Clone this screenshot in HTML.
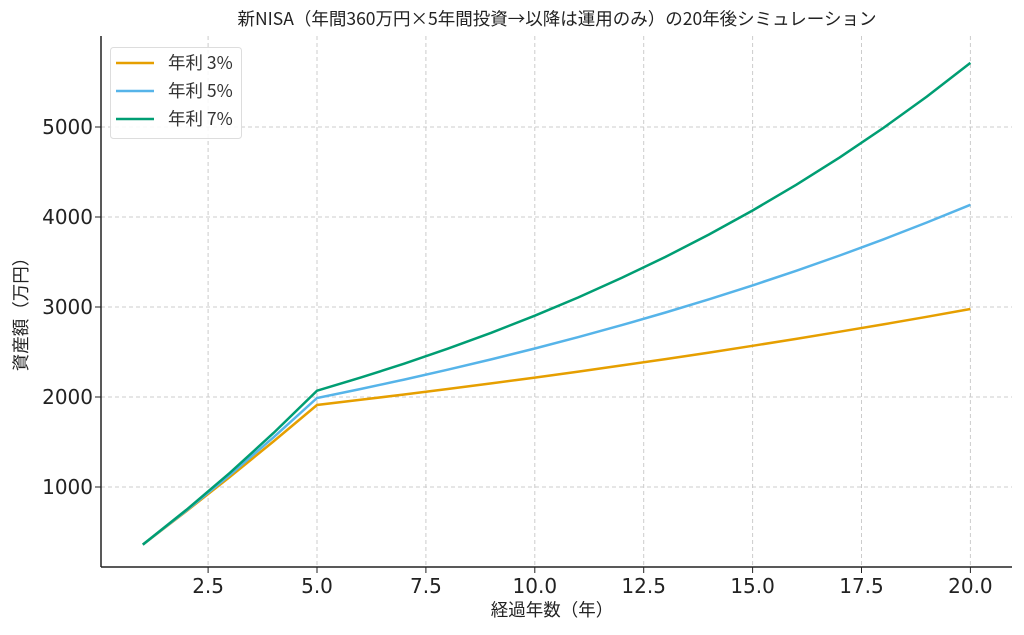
<!DOCTYPE html>
<html><head><meta charset="utf-8"><style>
body{margin:0;background:#fff;}
svg{display:block;font-family:"DejaVu Sans","Noto Sans CJK JP",sans-serif;}
.j{font-family:"Noto Sans CJK JP","DejaVu Sans",sans-serif;}
</style></head><body>
<svg id="s" width="1024" height="635" xmlns="http://www.w3.org/2000/svg">
<rect width="1024" height="635" fill="#fff"/>
<text class="j" x="557" y="25" text-anchor="middle" font-size="17.5" fill="#222">新NISA（年間360万円×5年間投資→以降は運用のみ）の20年後シミュレーション</text>
<g id="grid" stroke="#ccc" stroke-width="1" stroke-dasharray="4,3"></g>
<g id="lines" fill="none" stroke-width="2.5"></g>
<line x1="101" y1="36" x2="101" y2="567" stroke="#222" stroke-width="1.5"/>
<line x1="101" y1="567" x2="1012" y2="567" stroke="#222" stroke-width="1.5"/>
<g id="ticks" font-size="20" fill="#222"></g>
<text class="j" x="552" y="616" text-anchor="middle" font-size="17.5" fill="#222">経過年数（年）</text>
<text class="j" transform="translate(27,310) rotate(-90)" text-anchor="middle" font-size="17.5" fill="#222">資産額（万円）</text>
<rect x="110.5" y="47.5" width="131" height="91" rx="3" fill="#fff" fill-opacity="0.85" stroke="#ddd"/>
<line x1="116" y1="63" x2="154" y2="63" stroke="#E69F00" stroke-width="2.5"/>
<line x1="116" y1="91" x2="154" y2="91" stroke="#56B4E9" stroke-width="2.5"/>
<line x1="116" y1="119" x2="154" y2="119" stroke="#009E73" stroke-width="2.5"/>
<g class="j" font-size="17.5" fill="#333">
<text x="168" y="69">年利 3%</text>
<text x="168" y="97">年利 5%</text>
<text x="168" y="125">年利 7%</text>
</g>
</svg>
<script>
var NS="http://www.w3.org/2000/svg";
function X(t){return 317+(t-5)*43.56;}
function Y(v){return 577-v*0.09;}
function el(p,tag,a,txt){var e=document.createElementNS(NS,tag);for(var k in a)e.setAttribute(k,a[k]);if(txt)e.textContent=txt;document.getElementById(p).appendChild(e);}
[2.5,5,7.5,10,12.5,15,17.5,20].forEach(function(t){var x=X(t);el("grid","line",{x1:x,y1:36,x2:x,y2:567});el("ticks","line",{x1:x,y1:567,x2:x,y2:573,stroke:"#222"});el("ticks","text",{x:x,y:593,"text-anchor":"middle"},t.toFixed(1));});
[1000,2000,3000,4000,5000].forEach(function(v){var y=Y(v);el("grid","line",{x1:101,y1:y,x2:1012,y2:y});el("ticks","line",{x1:95,y1:y,x2:101,y2:y,stroke:"#222"});el("ticks","text",{x:93,y:y+7,"text-anchor":"end"},v);});
[[0.03,"#E69F00"],[0.05,"#56B4E9"],[0.07,"#009E73"]].forEach(function(c){var r=c[0],v=0,pts=[];for(var n=1;n<=20;n++){if(n<=5)v=v*(1+r)+360;else v=v*(1+r);pts.push(X(n).toFixed(1)+","+Y(v).toFixed(1));}el("lines","polyline",{points:pts.join(" "),stroke:c[1]});});
</script>
</body></html>
